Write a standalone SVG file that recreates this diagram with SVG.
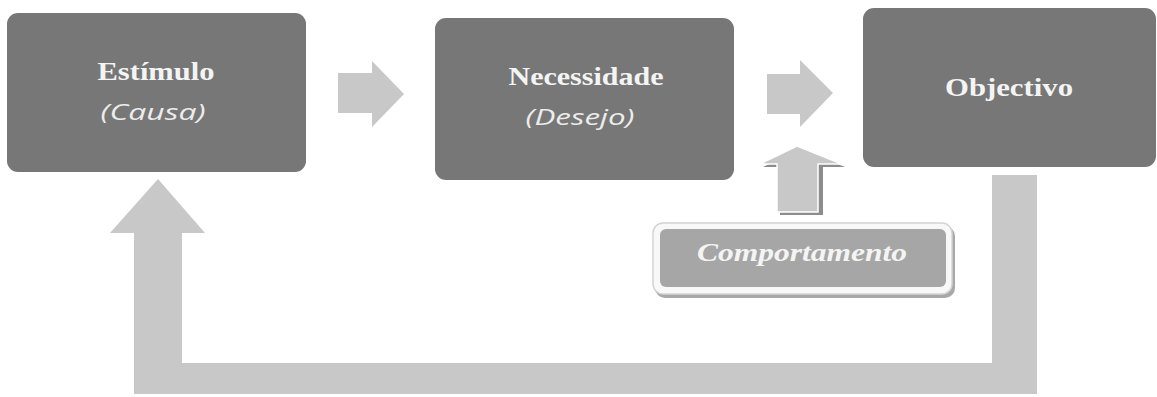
<svg xmlns="http://www.w3.org/2000/svg" width="1157" height="397" viewBox="0 0 1157 397">
  <style>
    .box { fill: #777777; }
    .arrow { fill: #c8c8c8; }
    .title { font-family: "Liberation Serif", "Times New Roman", serif; font-weight: bold; font-size: 26px; fill: #f4f4f4; text-anchor: middle; }
    .sub { font-family: "Open Sans", "Liberation Sans", sans-serif; font-style: italic; font-size: 22px; fill: #ececec; text-anchor: middle; }
    .beh { font-family: "Liberation Serif", "Times New Roman", serif; font-weight: bold; font-style: italic; font-size: 26px; fill: #f4f4f4; text-anchor: middle; }
  </style>

  <!-- connectors: block arrows -->
  <g id="connectors">
    <!-- Estímulo -> Necessidade -->
    <path class="arrow" d="M338,73 H372 V61 L404,94 L372,127 V113 H338 Z"/>
    <!-- Necessidade -> Objectivo -->
    <path class="arrow" d="M767,74 H800 V60 L833,93 L800,127 V114 H767 Z"/>
    <!-- Comportamento -> between Necessidade and Objectivo (with shadow) -->
    <path d="M780,215 V167 H763 L800,149 L845,167 H823 V215 Z" fill="#8c8c8c"/>
    <path class="arrow" d="M777,212 V164 H760 L797,146 L842,164 H818 V212 Z" stroke="#ffffff" stroke-width="1.5"/>
    <!-- feedback loop: Objectivo back to Estímulo -->
    <path class="arrow" d="M992,175 H1037 V394 H134 V233 H110 L158,179 L205,233 H182 V363 H992 Z"/>
  </g>

  <g id="node-estimulo">
    <rect class="box" x="7" y="13" width="299" height="159" rx="11"/>
    <text class="title" x="156" y="80" textLength="117" lengthAdjust="spacingAndGlyphs">Estímulo</text>
    <text class="sub" x="153" y="120" textLength="105" lengthAdjust="spacingAndGlyphs">(Causa)</text>
  </g>

  <g id="node-necessidade">
    <rect class="box" x="435" y="18" width="299" height="162" rx="11"/>
    <text class="title" x="586" y="85" textLength="155" lengthAdjust="spacingAndGlyphs">Necessidade</text>
    <text class="sub" x="580" y="125" textLength="109" lengthAdjust="spacingAndGlyphs">(Desejo)</text>
  </g>

  <g id="node-objectivo">
    <rect class="box" x="863" y="8" width="293" height="159" rx="11"/>
    <text class="title" x="1009" y="96" textLength="128" lengthAdjust="spacingAndGlyphs">Objectivo</text>
  </g>

  <g id="node-comportamento">
    <rect x="655" y="226" width="300" height="72" rx="10" fill="#a8a8a8"/>
    <rect x="653" y="223" width="299" height="71" rx="10" fill="#f8f8f8" stroke="#d4d4d4" stroke-width="1.5"/>
    <rect x="660" y="229" width="286" height="58" rx="6" fill="#a6a6a6"/>
    <text class="beh" x="802" y="261" textLength="210" lengthAdjust="spacingAndGlyphs">Comportamento</text>
  </g>
</svg>
